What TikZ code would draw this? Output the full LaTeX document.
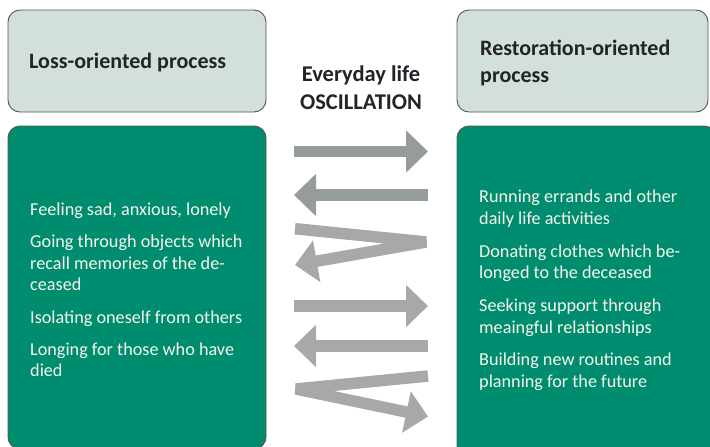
\documentclass[tikz,border=0pt]{standalone}
\usepackage{fontspec}
\setmainfont{Carlito}
\usetikzlibrary{arrows.meta}

\definecolor{headfill}{RGB}{211,224,218}
\definecolor{bodyfill}{RGB}{0,140,110}
\definecolor{boxline}{RGB}{85,85,85}
\definecolor{arrdark}{RGB}{150,156,156}
\definecolor{arrlight}{RGB}{168,168,168}
\definecolor{headtext}{RGB}{35,35,42}
\definecolor{bodytext}{RGB}{246,246,236}

\tikzset{
  headbox/.style={draw=boxline, fill=headfill, rounded corners=12pt, line width=0.9pt},
  bodybox/.style={draw=boxline, fill=bodyfill, rounded corners=12pt, line width=0.9pt},
  headlabel/.style={anchor=base west, align=left, inner sep=0pt, text=headtext,
    font=\fontsize{22}{27}\selectfont\bfseries},
  itemlabel/.style={anchor=base west, align=left, inner sep=0pt, text=bodytext,
    font=\fontsize{18.2}{21.5}\selectfont},
  osc/.style={line width=11.5pt, -{Triangle[length=22pt,width=41pt]}},
}

\begin{document}
\begin{tikzpicture}[x=1pt, y=-1pt]
\useasboundingbox (0,0) rectangle (710,447);
\clip (0,0) rectangle (710,447);
\fill[white] (0,0) rectangle (710,447);

% die vier kaesten
\draw[headbox] (8,10) rectangle (266,112);
\draw[bodybox] (8,126) rectangle (266,449);
\draw[headbox] (457,10) rectangle (708,112);
\draw[bodybox] (457,126) rectangle (716,460);

% ueberschriften (base = letzte zeile)
\node[headlabel] (losshead) at (29,68) {Loss-oriented process};
\node[headlabel] (resthead) at (480,82) {Restoration-oriented\\process};
\node[headlabel, anchor=base, align=center, font=\fontsize{22.5}{27.3}\selectfont\bfseries]
  (mid) at (361,109) {Everyday life\\OSCILLATION};

% links
\node[itemlabel] (L1) at (30,215.7) {Feeling sad, anxious, lonely};
\node[itemlabel] (L2) at (30,290.7) {Going through objects which\\recall memories of the de-\\ceased};
\node[itemlabel] (L3) at (30,323) {Isolating oneself from others};
\node[itemlabel] (L4) at (30,376.7) {Longing for those who have\\died};

% rechts
\node[itemlabel] (R1) at (479,224) {Running errands and other\\daily life activities};
\node[itemlabel] (R2) at (479,278.7) {Donating clothes which be-\\longed to the deceased};
\node[itemlabel] (R3) at (479,333.3) {Seeking support through\\meaingful relationships};
\node[itemlabel] (R4) at (479,387.3) {Building new routines and\\planning for the future};

% pfeile in der mitte
\draw[osc, arrdark] (294,151.5) -- (428,151.5);
\draw[osc, arrdark] (428,195) -- (294,195);
\draw[osc, arrlight, line join=bevel] (295,228.7) -- (426,242) -- (295,265);
\draw[osc, arrlight] (294,306) -- (428,306);
\draw[osc, arrlight] (428,346) -- (294,346);
\draw[osc, arrlight, line join=bevel] (428,376) -- (296,389) -- (428,416.5);

\end{tikzpicture}
\end{document}
